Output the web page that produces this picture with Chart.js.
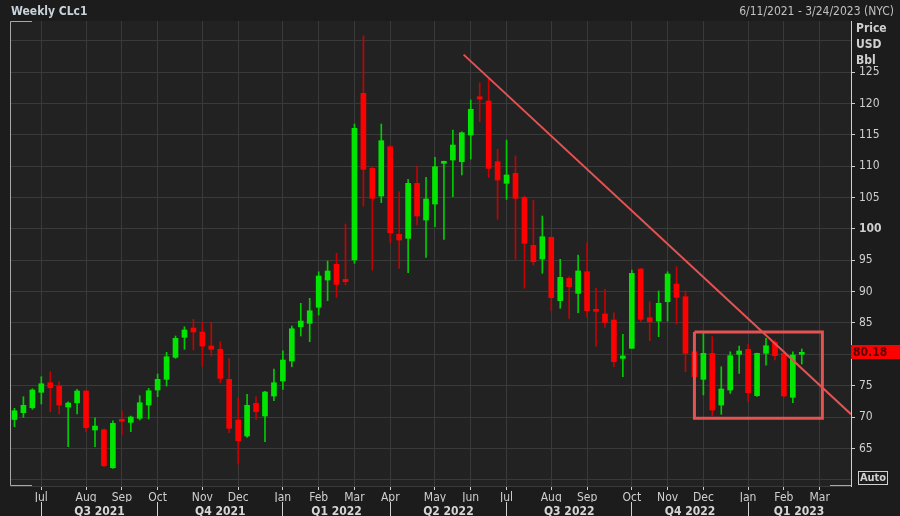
<!DOCTYPE html>
<html><head><meta charset="utf-8">
<script src="https://cdn.jsdelivr.net/npm/chart.js@4.4.1/dist/chart.umd.min.js"></script>
<style>
html,body{margin:0;padding:0;background:#1c1c1c;}
#wrap{position:relative;width:900px;height:516px;overflow:hidden;font-family:'DejaVu Sans Condensed','DejaVu Sans',sans-serif;}
canvas{position:absolute;left:0;top:0;}
.t{position:absolute;white-space:nowrap;}
</style></head><body>
<div id="wrap">
<canvas id="c" width="900" height="516"></canvas>
<div class="t" style="left:11px;top:4px;font-weight:bold;font-size:12px;color:#c8d3dc">Weekly CLc1</div>
<div class="t" style="right:6px;top:4px;font-size:12px;color:#c0c0c0">6/11/2021 - 3/24/2023 (NYC)</div>
<div class="t" style="left:856px;top:20px;font-weight:bold;font-size:12px;line-height:16px;color:#d0d0d0">Price<br>USD<br>Bbl</div>
<div class="t" style="left:858px;top:471px;width:28px;height:12px;border:1px solid #d0d0d0;font-weight:bold;font-size:11px;line-height:12px;text-align:center;color:#d0d0d0">Auto</div>
</div>
<script>
const weeks = ['2021-06-11','2021-06-18','2021-06-25','2021-07-02','2021-07-09','2021-07-16','2021-07-23','2021-07-30','2021-08-06','2021-08-13','2021-08-20','2021-08-27','2021-09-03','2021-09-10','2021-09-17','2021-09-24','2021-10-01','2021-10-08','2021-10-15','2021-10-22','2021-10-29','2021-11-05','2021-11-12','2021-11-19','2021-11-26','2021-12-03','2021-12-10','2021-12-17','2021-12-24','2021-12-31','2022-01-07','2022-01-14','2022-01-21','2022-01-28','2022-02-04','2022-02-11','2022-02-18','2022-02-25','2022-03-04','2022-03-11','2022-03-18','2022-03-25','2022-04-01','2022-04-08','2022-04-15','2022-04-22','2022-04-29','2022-05-06','2022-05-13','2022-05-20','2022-05-27','2022-06-03','2022-06-10','2022-06-17','2022-06-24','2022-07-01','2022-07-08','2022-07-15','2022-07-22','2022-07-29','2022-08-05','2022-08-12','2022-08-19','2022-08-26','2022-09-02','2022-09-09','2022-09-16','2022-09-23','2022-09-30','2022-10-07','2022-10-14','2022-10-21','2022-10-28','2022-11-04','2022-11-11','2022-11-18','2022-11-25','2022-12-02','2022-12-09','2022-12-16','2022-12-23','2022-12-30','2023-01-06','2023-01-13','2023-01-20','2023-01-27','2023-02-03','2023-02-10','2023-02-17'];
const open  = [69.6,70.69,71.48,73.94,75.47,74.94,71.59,72.28,74.15,67.93,67.97,61.91,69.63,69.15,69.79,71.91,74.31,76.01,79.52,82.71,84.19,83.56,81.32,80.8,76.01,69.52,66.97,72.18,70.16,73.35,75.74,78.93,84.4,84.94,87.5,91.85,94.35,91.96,95.04,121.63,109.66,105.25,113.11,99.14,98.5,107.27,101.42,103.97,110.46,110.99,110.72,114.98,121.08,120.4,110.72,107.27,108.87,105.04,97.38,95.2,98.66,88.55,92.12,89.73,93.17,87.07,86.43,85.47,79.36,80.96,93.6,85.84,85.31,88.39,91.21,89.19,80.41,76.01,80.16,71.91,74.31,80.0,80.8,73.4,80.16,81.91,80.16,73.14,80.0];
const high  = [71.4,73.24,74.51,76.43,77.22,75.63,72.44,74.42,74.2,69.89,68.1,69.41,70.96,70.16,73.4,74.58,76.86,80.32,82.92,84.4,85.58,85.1,85.1,82.01,79.36,73.14,73.62,73.24,74.1,77.66,80.57,84.51,88.13,88.93,93.17,94.88,96.11,100.78,116.73,130.77,109.9,116.73,113.3,105.93,107.91,110.03,108.23,111.42,110.83,115.77,115.5,120.56,123.32,123.86,112.69,114.18,111.63,105.25,104.61,102.06,98.76,95.15,92.38,95.84,97.8,90.53,90.37,86.63,83.19,93.44,93.71,88.39,90.1,93.17,93.97,90.1,80.69,83.44,82.81,78.02,80.41,81.32,81.59,80.2,82.55,82.28,80.57,80.41,80.85];
const low   = [68.45,69.95,71.23,72.07,70.85,70.48,65.26,70.48,67.66,65.26,62.07,61.82,67.13,67.66,69.52,69.68,73.24,74.94,79.36,80.8,80.69,78.13,79.73,75.47,67.5,62.5,66.76,69.63,66.06,72.6,74.42,78.02,82.92,82.01,86.27,88.55,89.09,91.05,94.51,103.65,93.44,104.18,97.8,93.71,93.01,100.62,95.47,100.35,98.34,105.14,108.6,111.15,117.1,108.23,101.53,104.7,95.15,90.53,94.24,92.92,86.95,87.34,85.74,86.63,85.98,81.32,84.31,78.02,76.43,80.96,85.2,82.17,82.81,85.31,84.83,77.22,75.9,73.51,70.16,70.43,73.78,76.97,72.44,73.3,78.29,79.09,73.14,72.28,78.45];
const close = [71.0,71.87,74.31,75.31,74.67,71.91,72.23,74.15,68.29,68.56,62.23,68.99,69.31,70.0,72.28,74.19,76.01,79.62,82.55,83.88,83.56,81.32,80.8,76.17,68.2,66.22,71.87,70.85,73.99,75.47,79.09,84.08,85.31,86.95,92.49,93.29,91.16,91.58,116.04,109.5,104.88,114.07,99.39,98.23,107.27,102.06,104.77,109.92,110.62,113.38,115.34,119.08,120.72,109.66,107.8,108.6,104.88,97.7,94.77,98.76,89.03,92.28,90.78,93.29,86.95,86.86,85.1,78.82,79.73,92.92,85.58,85.2,88.13,92.81,89.09,80.16,76.43,80.16,71.12,74.47,79.78,80.53,73.88,80.16,81.37,79.78,73.35,79.89,80.18];

const monthTickIdx = [3,8,12,16,21,25,30,34,38,42,47,51,55,60,64,69,73,77,82,86,90];
const monthTickLabels = ['Jul','Aug','Sep','Oct','Nov','Dec','Jan','Feb','Mar','Apr','May','Jun','Jul','Aug','Sep','Oct','Nov','Dec','Jan','Feb','Mar'];
const quarterStartIdx = [3,16,30,42,55,69,82];
const quarterLabelIdx = [9.5,23,36,48.5,62,75.5,87.7];
const quarterLabels = ['Q3 2021','Q4 2021','Q1 2022','Q2 2022','Q3 2022','Q4 2022','Q1 2023'];
const yTickValues = [60,65,70,75,80,85,90,95,100,105,110,115,120,125,130];
const yLabelMin = 65, yLabelMax = 125;
const trendX = [50.2, 93.5];
const trendY = [127.8, 70.45];
const boxX = [76.0, 90.3, 90.3, 76.0, 76.0];
const boxY = [83.56, 83.56, 69.79, 69.79, 83.56];
const lastPrice = 80.18;

const FONT = "'DejaVu Sans Condensed','DejaVu Sans',sans-serif";
const UP = '#00e600', DOWN = '#ff0000', UPW = '#00cc00', DOWNW = '#c80000';
const LINE = 'rgb(228,82,82)';

const bgPlugin = {
  id: 'bgPlugin',
  beforeDraw(chart) {
    const {ctx, chartArea: a} = chart;
    ctx.save();
    ctx.fillStyle = '#222222';
    ctx.fillRect(a.left, a.top, a.right - a.left, a.bottom - a.top);
    ctx.restore();
  },
  afterDraw(chart) {
    const {ctx, chartArea: a} = chart;
    ctx.save();
    ctx.strokeStyle = '#a8a8a8';
    ctx.lineWidth = 1;
    ctx.beginPath();
    ctx.moveTo(a.left + 22, a.top + 0.5); ctx.lineTo(a.left + 0.5, a.top + 0.5);
    ctx.lineTo(a.left + 0.5, a.bottom - 0.5); ctx.lineTo(a.left + 22, a.bottom - 0.5);
    ctx.moveTo(a.right - 21, a.bottom - 0.5); ctx.lineTo(a.right, a.bottom - 0.5);
    ctx.stroke();
    const y = chart.scales.y.getPixelForValue(lastPrice);
    ctx.fillStyle = '#ff0000';
    ctx.fillRect(a.right, Math.round(y) - 8, 900 - a.right, 14);
    ctx.fillStyle = '#5a0000';
    ctx.font = 'bold 12px ' + FONT;
    ctx.textBaseline = 'middle';
    ctx.textAlign = 'left';
    ctx.fillText(lastPrice.toFixed(2), a.right + 2, Math.round(y) - 0.5);
    ctx.restore();
  }
};

new Chart(document.getElementById('c'), {
  type: 'bar',
  data: {
    datasets: [
      { type: 'line', data: trendX.map((x, i) => ({x, y: trendY[i]})), borderColor: LINE, borderWidth: 2, pointRadius: 0, order: 0 },
      { type: 'line', data: boxX.map((x, i) => ({x, y: boxY[i]})), borderColor: LINE, borderWidth: 3, pointRadius: 0, order: 0 },
      { type: 'bar', data: weeks.map((d, i) => ({x: i, y: [open[i], close[i]]})),
        backgroundColor: c => close[c.dataIndex] >= open[c.dataIndex] ? UP : DOWN,
        barThickness: 5, minBarLength: 2, grouped: false, order: 1 },
      { type: 'bar', data: weeks.map((d, i) => ({x: i, y: [low[i], high[i]]})),
        backgroundColor: c => close[c.dataIndex] >= open[c.dataIndex] ? UPW : DOWNW,
        barThickness: 1, grouped: false, order: 2 }
    ]
  },
  options: {
    responsive: false, animation: false, devicePixelRatio: 1,
    layout: { padding: { left: 10, top: 21, right: 0, bottom: 0 } },
    plugins: { legend: { display: false }, tooltip: { enabled: false } },
    scales: {
      x: {
        type: 'linear', position: 'bottom', min: -0.5, max: 93.5, offset: false, weight: 0,
        afterBuildTicks: s => { s.ticks = monthTickIdx.map(v => ({value: v})); },
        afterFit: s => { s.height = 16; },
        ticks: { autoSkip: false, maxRotation: 0, padding: 1, color: '#cfcfcf', font: {family: FONT, size: 12},
          callback: (v, i) => monthTickLabels[i] },
        grid: { offset: false, color: '#3a3a3a', tickLength: 4, tickColor: '#cfcfcf' },
        border: { display: true, color: '#3a3a3a' }
      },
      xq: {
        type: 'linear', position: 'bottom', min: -0.5, max: 93.5, offset: false, weight: 1,
        afterBuildTicks: s => {
          const t = quarterStartIdx.map(v => ({value: v})).concat(quarterLabelIdx.map(v => ({value: v})));
          t.sort((a, b) => a.value - b.value);
          s.ticks = t;
        },
        afterFit: s => { s.height = 14; },
        ticks: { autoSkip: false, maxRotation: 0, padding: -13, color: '#d6d6d6', font: {family: FONT, size: 12, weight: 'bold'},
          callback: v => { const k = quarterLabelIdx.indexOf(v); return k >= 0 ? quarterLabels[k] : ''; } },
        grid: { offset: false, drawOnChartArea: false, tickLength: 16,
          tickColor: c => (c.tick && quarterStartIdx.includes(c.tick.value)) ? '#cfcfcf' : 'rgba(0,0,0,0)' },
        border: { display: false }
      },
      y: {
        type: 'linear', position: 'right', min: 59, max: 133.16,
        afterBuildTicks: s => { s.ticks = yTickValues.map(v => ({value: v})); },
        afterFit: s => { s.width = 49; },
        ticks: { autoSkip: false, padding: 4, color: '#cfcfcf',
          font: c => ({family: FONT, size: 12, weight: (c.tick && c.tick.value === 100) ? 'bold' : 'normal'}),
          callback: v => (v >= yLabelMin && v <= yLabelMax) ? String(v) : '' },
        grid: { offset: false, color: '#3a3a3a', tickLength: 4,
          tickColor: c => (c.tick && c.tick.value >= yLabelMin && c.tick.value <= yLabelMax) ? '#cfcfcf' : 'rgba(0,0,0,0)' },
        border: { display: true, color: '#cfcfcf' }
      }
    }
  },
  plugins: [bgPlugin]
});
</script>
</body></html>
